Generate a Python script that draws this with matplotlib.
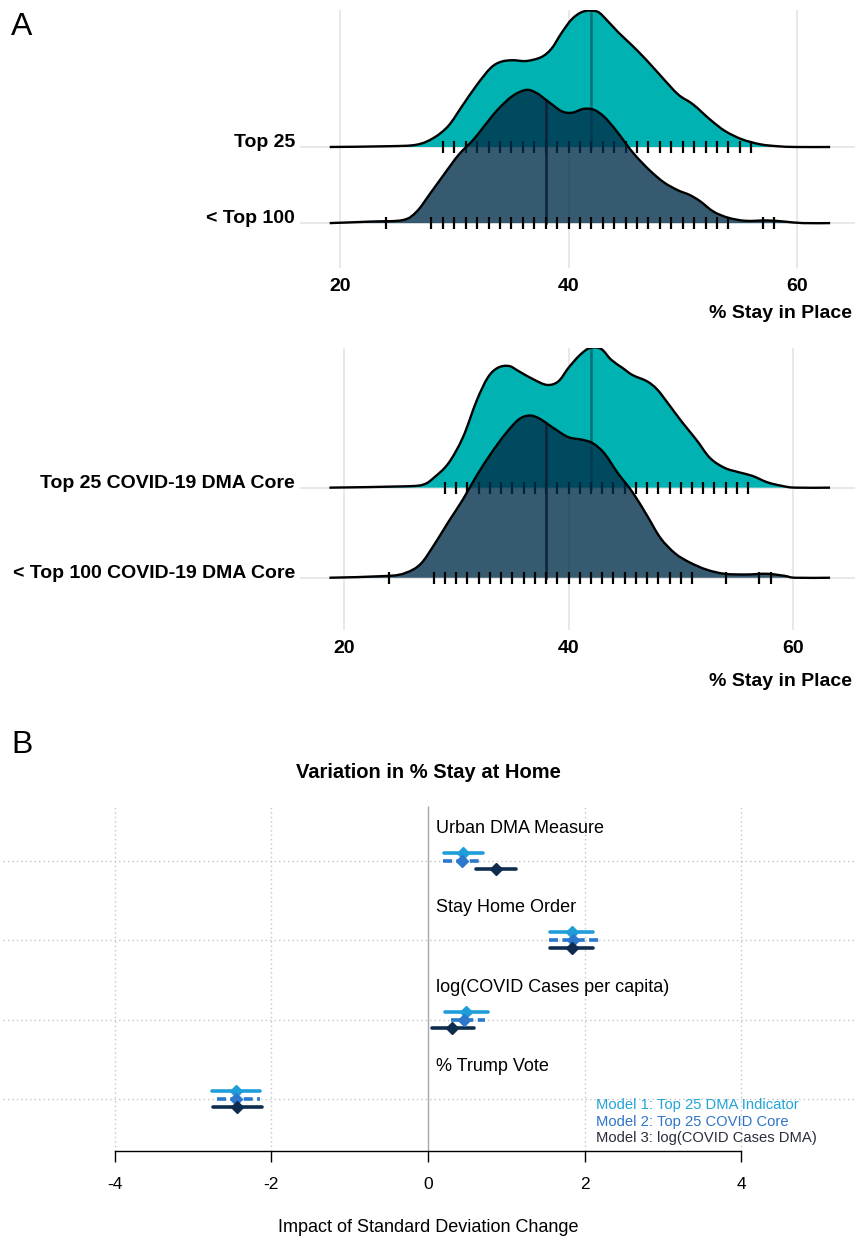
import matplotlib
matplotlib.use("Agg")
import matplotlib.pyplot as plt
from matplotlib.path import Path
from matplotlib.patches import PathPatch
import numpy as np

plt.rcParams['font.family'] = ['Liberation Sans', 'DejaVu Sans']

W, H = 855, 1237

# ---- panel A: ridge densities (height in units of row spacing) ----
top25_x = [19.1, 24.2, 26.7, 28.2, 29.5, 30.7, 32.0, 33.2, 34.1, 35.1, 36.3, 37.6, 38.5, 39.4,
           40.3, 41.3, 42.5, 43.4, 44.4, 45.6, 46.9, 48.1, 49.6, 50.9, 52.4, 53.7, 55.2, 56.8,
           58.3, 59.9, 62.9]
top25_h = [0, 0.01, 0.03, 0.12, 0.28, 0.54, 0.82, 1.04, 1.12, 1.14, 1.13, 1.18, 1.29, 1.50,
           1.68, 1.78, 1.78, 1.66, 1.50, 1.33, 1.13, 0.93, 0.69, 0.56, 0.36, 0.21, 0.10, 0.035,
           0.01, 0, 0]
top100_x = [19.1, 22.7, 25.5, 26.7, 27.9, 29.2, 30.4, 31.7, 32.6, 33.8, 35.1, 36.3, 37.2, 38.2,
            39.4, 40.3, 41.3, 42.2, 43.1, 44.1, 45.0, 45.9, 47.2, 48.4, 49.6, 50.6, 51.5, 52.7,
            54.0, 55.5, 57.4, 58.9, 60.5, 62.9]
top100_h = [0, 0.02, 0.04, 0.15, 0.39, 0.66, 0.90, 1.10, 1.27, 1.49, 1.67, 1.75, 1.71, 1.60,
            1.47, 1.45, 1.50, 1.49, 1.40, 1.23, 1.05, 0.88, 0.68, 0.53, 0.43, 0.37, 0.29, 0.15,
            0.07, 0.03, 0.035, 0.02, 0, 0]
core25_x = [18.7, 25.5, 27.1, 28.0, 29.3, 30.6, 31.8, 32.8, 33.7, 34.7, 35.6, 36.9, 38.1, 39.1,
            40.0, 41.0, 41.9, 42.9, 43.8, 44.8, 45.7, 47.0, 47.9, 48.9, 50.1, 51.4, 52.6, 53.9,
            55.2, 56.4, 57.7, 59.0, 60.2, 63.3]
core25_h = [0, 0.015, 0.036, 0.11, 0.27, 0.56, 0.96, 1.22, 1.33, 1.35, 1.29, 1.20, 1.14, 1.18,
            1.33, 1.47, 1.55, 1.54, 1.42, 1.33, 1.25, 1.18, 1.09, 0.93, 0.73, 0.53, 0.33, 0.22,
            0.17, 0.13, 0.06, 0.02, 0, 0]
core100_x = [18.7, 23.9, 25.5, 26.8, 28.0, 29.3, 30.6, 31.8, 33.1, 34.4, 35.6, 36.6, 37.5, 38.8,
             40.0, 41.3, 42.2, 43.2, 44.4, 45.7, 47.0, 48.2, 49.5, 50.8, 52.3, 53.9, 55.8, 57.7,
             59.3, 60.2, 63.3]
core100_h = [0, 0.02, 0.055, 0.15, 0.36, 0.62, 0.87, 1.13, 1.38, 1.60, 1.76, 1.80, 1.76, 1.65,
             1.56, 1.53, 1.49, 1.38, 1.16, 0.95, 0.69, 0.44, 0.27, 0.17, 0.09, 0.044, 0.036, 0.044,
             0.02, 0, 0]

# rug ticks (observed values)
top25_rug = [29, 30, 31, 32, 33, 34, 35, 36, 37, 38, 39, 40, 41, 42, 43, 44, 45, 46, 47, 48,
             49, 50, 51, 52, 53, 54, 55, 56]
top100_rug = [24, 28, 29, 30, 31, 32, 33, 34, 35, 36, 37, 38, 39, 40, 41, 42, 43, 44, 45, 46,
              47, 48, 49, 50, 51, 52, 53, 54, 57, 58]
core25_rug = [29, 30, 31, 32, 33, 34, 35, 36, 37, 38, 39, 40, 41, 42, 43, 44, 45, 46, 47, 48,
              49, 50, 51, 52, 53, 54, 55, 56]
core100_rug = [24, 28, 29, 30, 31, 32, 33, 34, 35, 36, 37, 38, 39, 40, 41, 42, 43, 44, 45, 46,
               47, 48, 49, 50, 51, 54, 57, 58]

mean_top = 42.0
mean_low = 38.0

# ---- panel B: coefficient estimates ----
terms = ['Urban DMA Measure', 'Stay Home Order', 'log(COVID Cases per capita)', '% Trump Vote']
m1_est = [0.45, 1.84, 0.48, -2.45]
m1_lo = [0.20, 1.56, 0.22, -2.76]
m1_hi = [0.70, 2.11, 0.76, -2.14]
m2_est = [0.44, 1.85, 0.46, -2.45]
m2_lo = [0.19, 1.55, 0.30, -2.70]
m2_hi = [0.70, 2.18, 0.73, -2.15]
m3_est = [0.87, 1.84, 0.31, -2.44]
m3_lo = [0.61, 1.56, 0.05, -2.74]
m3_hi = [1.12, 2.11, 0.59, -2.12]
model_names = ['Model 1: Top 25 DMA Indicator', 'Model 2: Top 25 COVID Core',
               'Model 3: log(COVID Cases DMA)']

TEAL = '#00B2B2'
NAVY = '#002E4A'
C1, C2, C3 = '#1E9DD8', '#2B78CD', '#0E2C4E'


def px_axes(fig, left, top, right, bottom):
    return fig.add_axes([left / W, 1 - bottom / H, (right - left) / W, (bottom - top) / H])


def curve_verts(x, y):
    # smooth bezier through the read points (catmull-rom)
    P = np.column_stack([x, y])
    Pm = np.vstack([P[0], P, P[-1]])
    verts, codes = [P[0]], [Path.MOVETO]
    for i in range(len(P) - 1):
        p0, p1, p2, p3 = Pm[i], Pm[i + 1], Pm[i + 2], Pm[i + 3]
        verts += [p1 + (p2 - p0) / 6, p2 - (p3 - p1) / 6, p2]
        codes += [Path.CURVE4] * 3
    return verts, codes


def ridge(ax, x, h, rug, mean, row, color, alpha, meancolor, z):
    x = np.array(x)
    y = row + np.array(h)
    verts, codes = curve_verts(x, y)
    fill = PathPatch(Path(verts + [(x[-1], row), (x[0], row), (x[0], row)],
                          codes + [Path.LINETO, Path.LINETO, Path.CLOSEPOLY]),
                     facecolor=color, alpha=alpha, lw=0, zorder=z)
    ax.add_patch(fill)
    ax.plot([mean, mean], [row, row + np.interp(mean, x, h)], color=meancolor, lw=1.8, zorder=z + 0.1)
    ax.plot(rug, [row] * len(rug), ls='none', marker='|', ms=8.5, mew=1.6, color='black', zorder=z + 0.2)
    ax.add_patch(PathPatch(Path(verts, codes), fill=False, edgecolor='black', lw=1.7,
                           joinstyle='round', zorder=z + 0.3))


def ridge_panel(top, bottom, x20, x60, ylo, yhi, upper, lower, labels, tick_y, title_y):
    ax = px_axes(fig, 300, top, 855, bottom)
    ppu = (x60 - x20) / 40.0
    ax.set_xlim(20 - (x20 - 300) / ppu, 20 + (855 - x20) / ppu)
    ax.set_ylim(ylo, yhi)
    for s in ax.spines.values():
        s.set_visible(False)
    for gx in [20, 40, 60]:
        ax.axvline(gx, color='#E2E2E2', lw=1.1, zorder=0)
    for r in [0, 1]:
        ax.axhline(r, color='#E2E2E2', lw=1.1, zorder=0)
    ridge(ax, *upper, row=1, color=TEAL, alpha=1.0, meancolor='#0A6E74', z=2)
    ridge(ax, *lower, row=0, color=NAVY, alpha=0.79, meancolor='#0B2238', z=3)
    ax.set_yticks([])
    ax.set_xticks([20, 40, 60])
    ax.set_xticklabels(['20', '40', '60'], fontsize=14, fontweight='bold')
    ax.tick_params(axis='x', length=0, pad=(tick_y - bottom - 7) * 72 / 100)
    for r, lab in zip([1, 0], labels):
        ax.text(-5 / 555, r, lab, transform=ax.get_yaxis_transform(), ha='right', va='baseline',
                fontsize=14, fontweight='bold')
    fig.text(852 / W, 1 - title_y / H, '% Stay in Place', ha='right', va='center',
             fontsize=14, fontweight='bold')
    return ax


fig = plt.figure(figsize=(W / 100, H / 100), dpi=100)

ridge_panel(10, 268, 340, 797, -0.59, 2.80,
            (top25_x, top25_h, top25_rug, mean_top), (top100_x, top100_h, top100_rug, mean_low),
            ['Top 25', '< Top 100'], 285, 313)
ridge_panel(348, 630, 344, 793, -0.58, 2.55,
            (core25_x, core25_h, core25_rug, mean_top), (core100_x, core100_h, core100_rug, mean_low),
            ['Top 25 COVID-19 DMA Core', '< Top 100 COVID-19 DMA Core'], 647, 681)

fig.text(22 / W, 1 - 27 / H, 'A', ha='center', va='center', fontsize=23)
fig.text(22 / W, 1 - 745 / H, 'B', ha='center', va='center', fontsize=23)

# ---- panel B ----
axb = px_axes(fig, 0, 806, 855, 1151)
ppu = 78.3
axb.set_xlim(-428 / ppu, (855 - 428) / ppu)
rows = [4, 3, 2, 1]
axb.set_ylim(1 - 52 / 79.3, 4 + 55 / 79.3)
for k in ['top', 'left', 'right']:
    axb.spines[k].set_visible(False)
axb.spines['bottom'].set_bounds(-4, 4)
axb.spines['bottom'].set_linewidth(1.0)
axb.set_yticks([])
axb.set_xticks([-4, -2, 0, 2, 4])
axb.set_xticklabels(['-4', '-2', '0', '2', '4'], fontsize=12.5)
axb.tick_params(axis='x', length=8, width=1, pad=11)

ylo, yhi = axb.get_ylim()
axb.hlines(rows, (3 - 428) / ppu, (855 - 428) / ppu, colors='#C4C4C4', lw=1, linestyles=(0, (1, 2.2)), zorder=0)
axb.vlines([-4, -2, 2, 4], ylo, yhi, colors='#C4C4C4', lw=1, linestyles=(0, (1, 2.2)), zorder=0)
axb.vlines([0], ylo, yhi, colors='#A8A8A8', lw=1, zorder=0)

models = [(m1_est, m1_lo, m1_hi, C1, '-', 0.1),
          (m2_est, m2_lo, m2_hi, C2, (0, (2.5, 1.2)), 0.0),
          (m3_est, m3_lo, m3_hi, C3, '-', -0.1)]
for est, lo, hi, col, ls, off in models:
    for r, e, a, b in zip(rows, est, lo, hi):
        axb.plot([a, b], [r + off, r + off], color=col, lw=2.6, ls=ls, solid_capstyle='round', zorder=3)
        axb.plot(e, r + off, marker='D', ms=6.5, color=col, zorder=4)

for r, t in zip(rows, terms):
    axb.text(0.1, r + 0.41, t, fontsize=13, va='center', ha='left')

for name, col, yy in zip(model_names, ['#22A3D8', '#2F74C9', '#2A2E3C'], [0.924, 0.71, 0.508]):
    axb.text(2.15, yy, name, color=col, fontsize=10.6, va='center', ha='left')

fig.text(428 / W, 1 - 772 / H, 'Variation in % Stay at Home', ha='center', va='center',
         fontsize=14.5, fontweight='bold')
fig.text(428 / W, 1 - 1228 / H, 'Impact of Standard Deviation Change', ha='center', va='center',
         fontsize=13)

fig.savefig('out.png', dpi=100)
